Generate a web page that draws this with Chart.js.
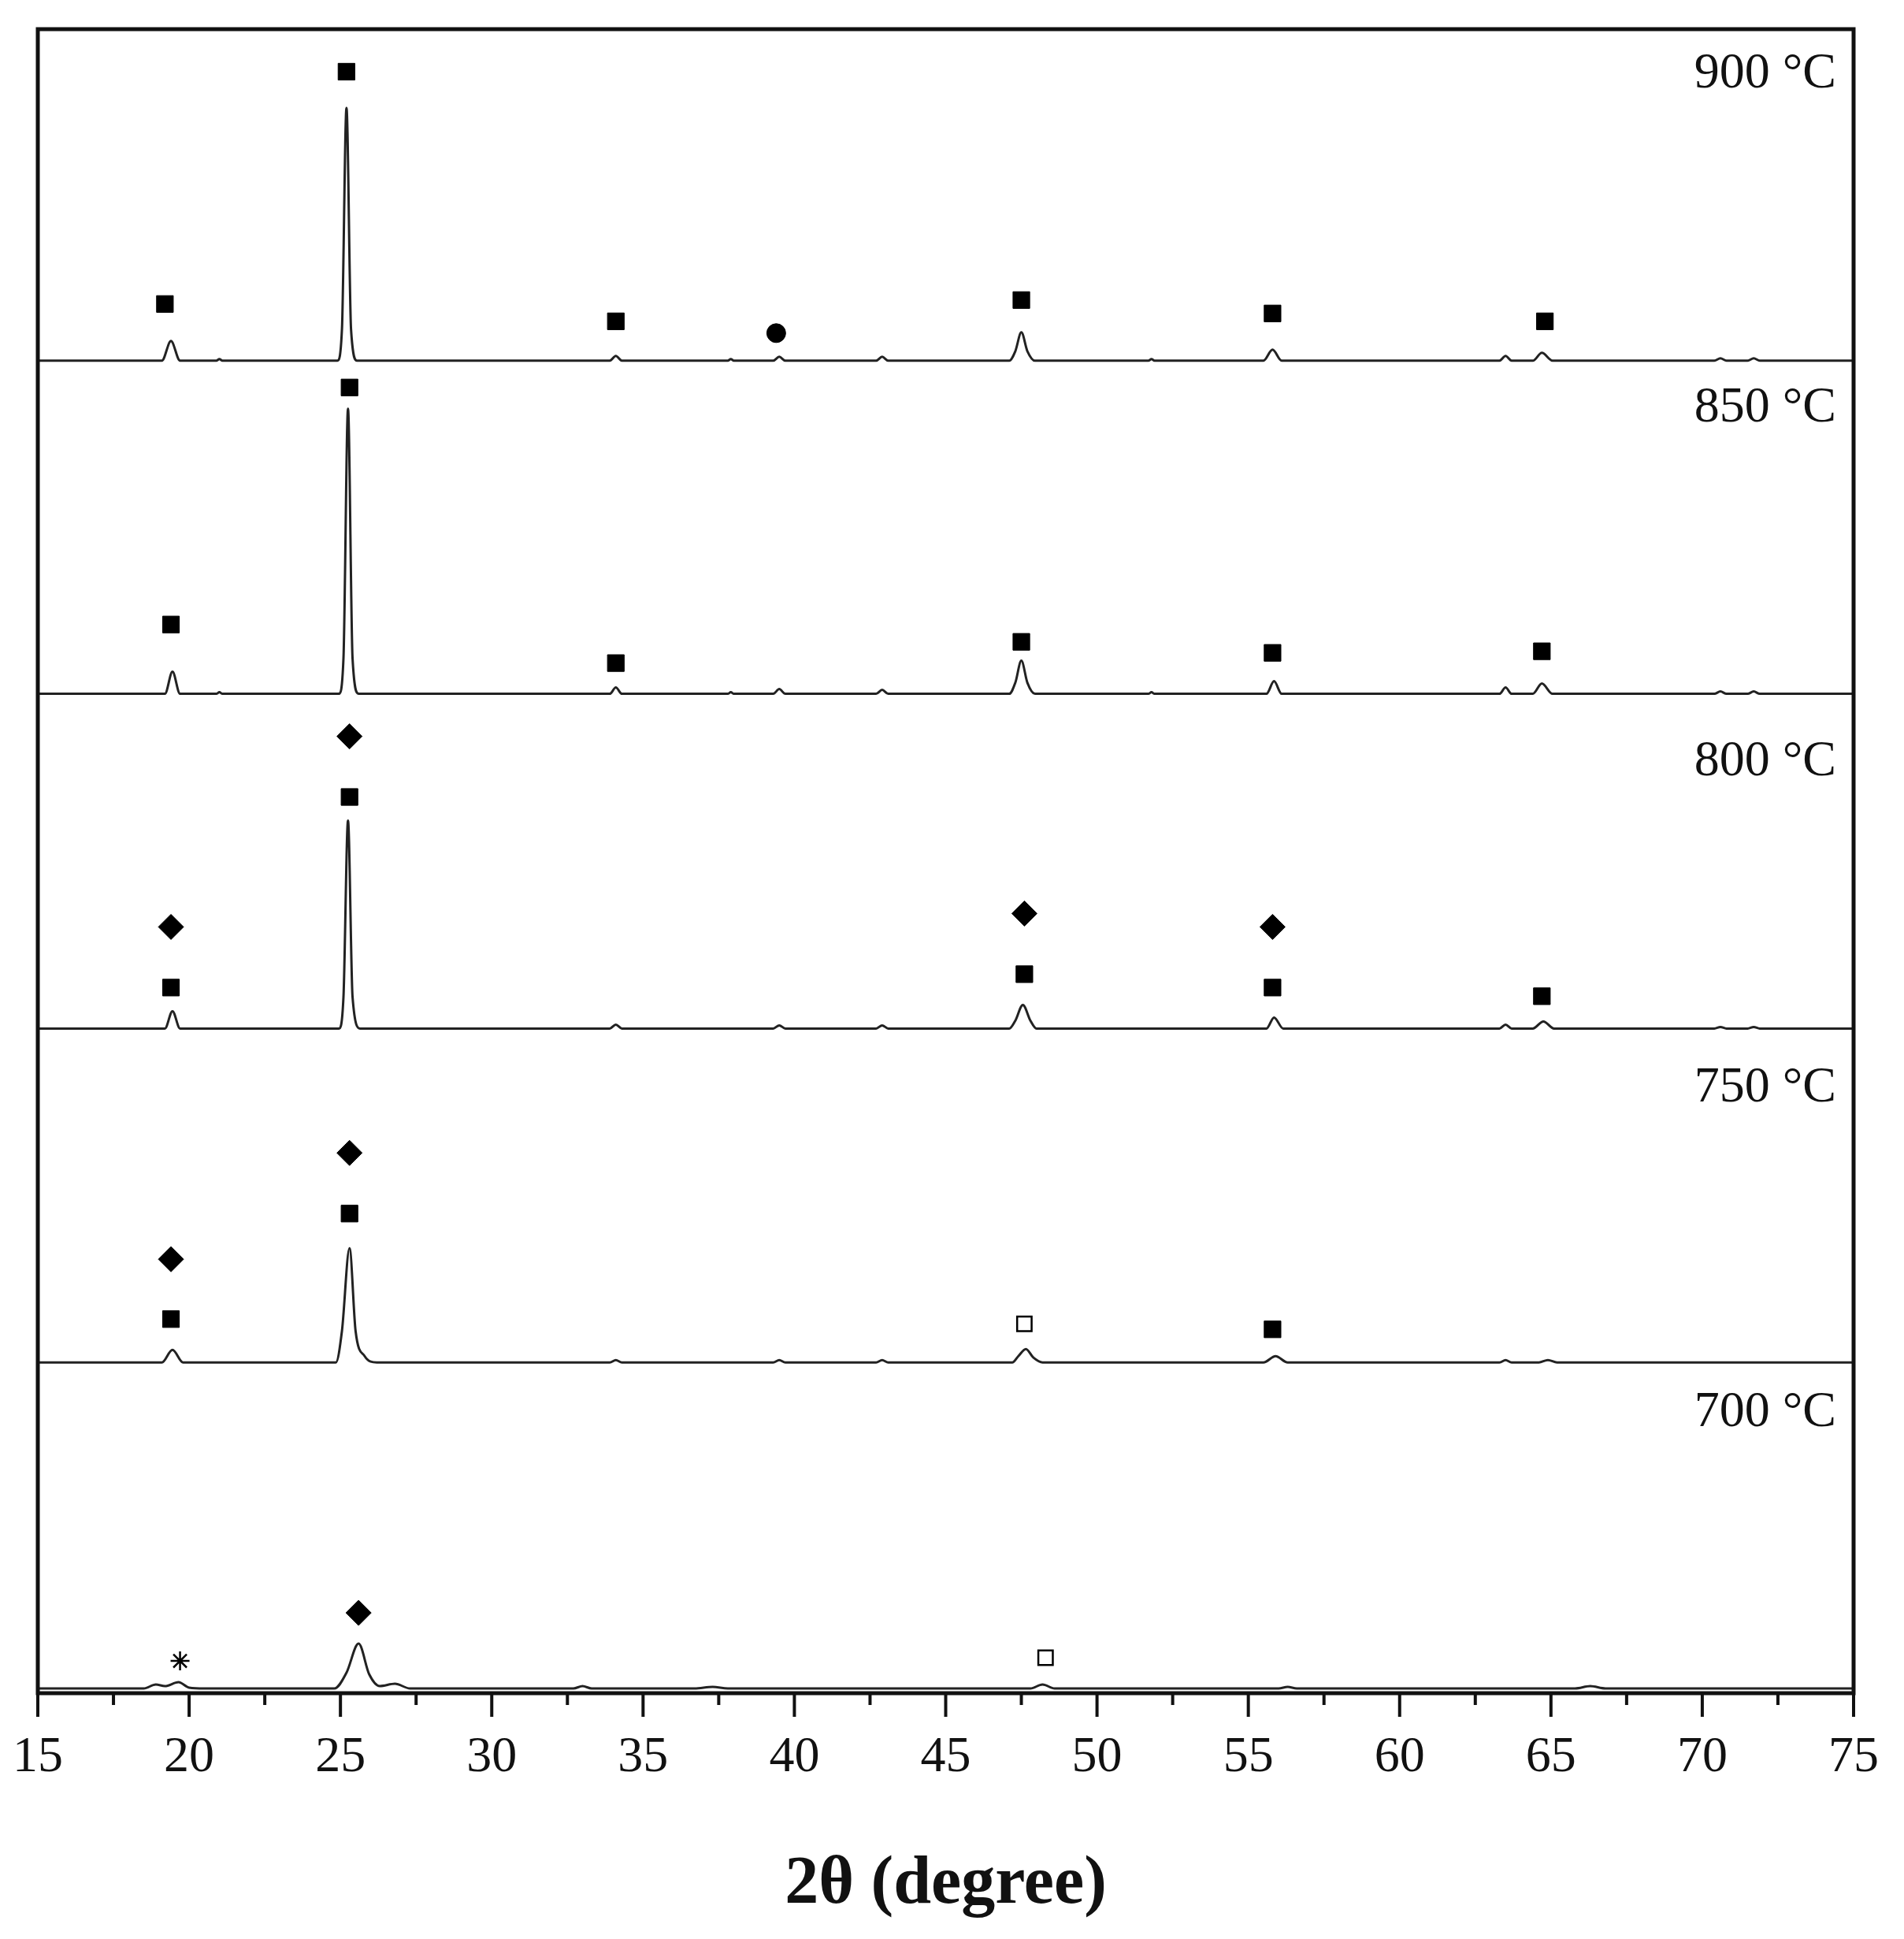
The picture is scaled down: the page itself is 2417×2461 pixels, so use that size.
<!DOCTYPE html>
<html><head><meta charset="utf-8">
<script src="https://cdn.jsdelivr.net/npm/chart.js@4/dist/chart.umd.min.js"></script>
<style>html,body{margin:0;padding:0;background:#fff}#wrap{width:2417px;height:2461px}</style>
</head><body><div id="wrap"><canvas id="c"></canvas></div>
<script>
const temps = ['900 °C','850 °C','800 °C','750 °C','700 °C'];
const baselines = [1692, 1269, 844, 420, 6];
const labelHeights = [364, 363, 338, 348, 350];
const xTicks = [15,20,25,30,35,40,45,50,55,60,65,70,75];

const s900 = [[15,0],[19.1,0],[19.4,25],[19.7,0],[20.9,0],[21.0,2],[21.1,0],[24.9,0],[25.05,40],[25.2,321],[25.35,40],[25.55,0],[33.9,0],[34.1,6],[34.3,0],[37.8,0],[37.9,2],[38,0],[39.3,0],[39.5,5],[39.7,0],[42.7,0],[42.9,5],[43.1,0],[47.1,0],[47.3,12],[47.5,36],[47.7,12],[47.95,0],[51.7,0],[51.8,2],[51.9,0],[55.5,0],[55.8,14],[56.1,0],[63.3,0],[63.5,6],[63.7,0],[64.4,0],[64.7,10],[65.05,0],[70.4,0],[70.6,3],[70.8,0],[71.5,0],[71.7,3],[71.9,0],[75,0]];
const s850 = [[15,0],[19.2,0],[19.45,28],[19.7,0],[20.9,0],[21.0,2],[21.1,0],[24.95,0],[25.1,45],[25.25,362],[25.4,45],[25.6,0],[33.9,0],[34.1,8],[34.3,0],[37.8,0],[37.9,2],[38,0],[39.3,0],[39.5,6],[39.7,0],[42.7,0],[42.9,5],[43.1,0],[47.1,0],[47.3,14],[47.5,42],[47.7,14],[47.95,0],[51.7,0],[51.8,2],[51.9,0],[55.6,0],[55.85,16],[56.1,0],[63.3,0],[63.5,8],[63.7,0],[64.4,0],[64.7,13],[65.05,0],[70.4,0],[70.6,3],[70.8,0],[71.5,0],[71.7,3],[71.9,0],[75,0]];
const s800 = [[15,0],[19.2,0],[19.45,22],[19.7,0],[24.95,0],[25.1,40],[25.25,264],[25.4,40],[25.65,0],[33.9,0],[34.1,5],[34.3,0],[39.3,0],[39.5,4],[39.7,0],[42.7,0],[42.9,4],[43.1,0],[47.1,0],[47.3,10],[47.55,30],[47.8,10],[48.0,0],[55.6,0],[55.85,14],[56.15,0],[63.3,0],[63.5,5],[63.7,0],[64.4,0],[64.75,9],[65.1,0],[70.4,0],[70.6,2],[70.8,0],[71.5,0],[71.7,2],[71.9,0],[75,0]];
const s750 = [[15,0],[19.1,0],[19.45,16],[19.8,0],[24.85,0],[25.05,40],[25.3,145],[25.5,40],[25.8,8],[26.2,0],[33.9,0],[34.1,3],[34.3,0],[39.3,0],[39.5,3],[39.7,0],[42.7,0],[42.9,3],[43.1,0],[47.2,0],[47.4,8],[47.65,17],[47.9,6],[48.2,0],[55.5,0],[55.9,8],[56.3,0],[63.3,0],[63.5,3],[63.7,0],[64.6,0],[64.9,3],[65.2,0],[75,0]];
const s700 = [[15,0],[18.5,0],[18.9,5],[19.2,3],[19.65,8],[20.0,1],[20.5,0],[24.8,0],[25.2,20],[25.6,57],[25.95,18],[26.3,3],[26.8,6],[27.3,0],[32.7,0],[33.0,3],[33.3,0],[36.7,0],[37.3,2],[37.8,0],[47.8,0],[48.2,5],[48.6,0],[56.0,0],[56.3,2],[56.6,0],[65.8,0],[66.3,3],[66.8,0],[75,0]];
const spectra = [s900, s850, s800, s750, s700];

// markers: [x, height above the panel baseline]
const fSquares = [[[19.2,72],[25.2,367],[34.1,50],[47.5,77],[55.8,60],[64.8,50]],
                  [[19.4,88],[25.3,389],[34.1,39],[47.5,66],[55.8,52],[64.7,54]],
                  [[19.4,52],[25.3,294],[47.6,69],[55.8,52],[64.7,41]],
                  [[19.4,55],[25.3,189],[55.8,42]],
                  []];
const diamonds = [[],[],
                  [[19.4,129],[25.3,371],[47.6,146],[55.8,129]],
                  [[19.4,131],[25.3,266]],
                  [[25.6,96]]];
const circles = [[[39.4,35]],[],[],[],[]];
const openSquares = [[],[],[],[[47.6,49]],[[48.3,39]]];
const stars = [[],[],[],[],[[19.7,35]]];

const toPts = (arr, i) => arr.map(p => ({x:p[0], y:p[1] + baselines[i]}));
const flat = (groups) => groups.flatMap((g,i) => toPts(g,i));

const datasets = spectra.map((s,i) => ({
  data: toPts(s,i), showLine:true, borderColor:'#222', borderWidth:3, pointRadius:0,
  cubicInterpolationMode:'monotone', fill:false
}));
datasets.push({data:flat(fSquares), pointStyle:'rect', pointRadius:15, backgroundColor:'#000', borderColor:'#000', borderWidth:1});
datasets.push({data:flat(diamonds), pointStyle:'rectRot', pointRadius:16, backgroundColor:'#000', borderColor:'#000', borderWidth:1});
datasets.push({data:flat(circles), pointStyle:'circle', pointRadius:12, backgroundColor:'#000', borderColor:'#000'});
datasets.push({data:flat(openSquares), pointStyle:'rect', pointRadius:13, backgroundColor:'#fff', borderColor:'#000', borderWidth:2.5});
datasets.push({data:flat(stars), pointStyle:'star', pointRadius:12, backgroundColor:'#000', borderColor:'#000', borderWidth:2.5});

const deco = {
  id:'deco',
  afterDraw(chart){
    const {ctx, chartArea:a, scales:{x,y}} = chart;
    ctx.save();
    ctx.strokeStyle='#111'; ctx.lineWidth=5;
    ctx.strokeRect(a.left, a.top, a.right-a.left, a.bottom-a.top);
    ctx.lineWidth=4;
    for(let v=15; v<=75; v+=2.5){
      const px = x.getPixelForValue(v);
      const major = Math.abs(v%5) < 1e-6;
      ctx.beginPath(); ctx.moveTo(px, a.bottom); ctx.lineTo(px, a.bottom + (major?30:15)); ctx.stroke();
    }
    ctx.fillStyle='#111'; ctx.font='64px "Liberation Serif"';
    ctx.textAlign='right'; ctx.textBaseline='middle';
    temps.forEach((t,i)=>{
      ctx.fillText(t, a.right-22, y.getPixelForValue(baselines[i]+labelHeights[i]));
    });
    ctx.restore();
  }
};

new Chart(document.getElementById('c'), {
  type:'scatter',
  data:{datasets},
  options:{
    responsive:true, maintainAspectRatio:false, animation:false,
    layout:{padding:{left:48, right:64, top:37, bottom:17}},
    plugins:{legend:{display:false}, tooltip:{enabled:false}},
    scales:{
      x:{type:'linear', min:15, max:75,
         afterBuildTicks:(s)=>{ s.ticks = xTicks.map(v=>({value:v})); },
         afterFit:(s)=>{ s.paddingLeft = 0; s.paddingRight = 0; },
         grid:{display:false, drawTicks:false}, border:{display:false},
         ticks:{padding:44, color:'#111', font:{family:'Liberation Serif', size:64}},
         title:{display:true, text:'2θ (degree)', color:'#111', padding:{top:27, bottom:0},
                font:{family:'Liberation Serif', size:86, weight:'bold'}}},
      y:{display:false, min:0, max:2113}
    }
  },
  plugins:[deco]
});
</script></body></html>
